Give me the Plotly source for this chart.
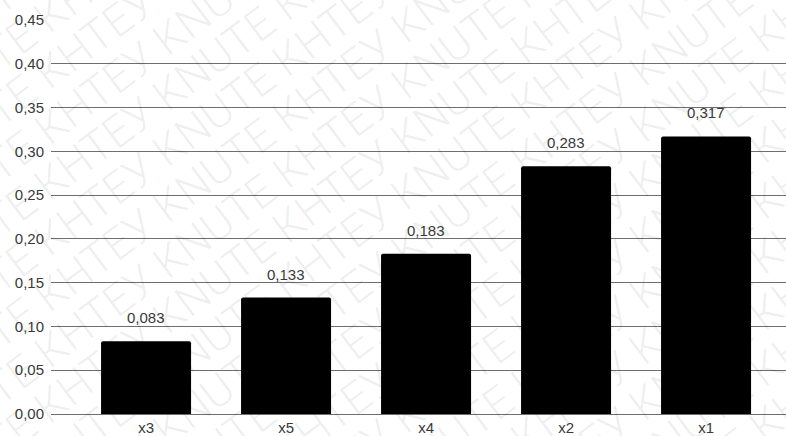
import plotly.graph_objects as go

categories = ["x3", "x5", "x4", "x2", "x1"]
values = [0.083, 0.133, 0.183, 0.283, 0.317]
y_ticks = [0.00, 0.05, 0.10, 0.15, 0.20, 0.25, 0.30, 0.35, 0.40, 0.45]
y_tick_labels = [f"{t:.2f}".replace(".", ",") for t in y_ticks]
watermark_text = "КНТЕУ KNUTE"

W, H = 786, 436
L, R, T, B = 51, 0, 20, 20
FONT = "Liberation Sans, Arial, sans-serif"
TXT = "#3a3a3a"

fig = go.Figure()
fig.add_trace(go.Bar(
    x=categories, y=values,
    marker=dict(color="#000000", line=dict(width=0), cornerradius=2),
    hoverinfo="skip",
))

# value labels above bars
for c, v in zip(categories, values):
    fig.add_annotation(
        x=c, y=v, xref="x", yref="y",
        text=f"{v:.3f}".replace(".", ","),
        showarrow=False, yanchor="bottom", yshift=13,
        font=dict(family=FONT, size=15, color=TXT),
    )

# diagonal watermark (semi-transparent dark so it vanishes on black bars)
angle = -37
pw, ph = W - L - R, H - T - B
long_text = (" ".join([watermark_text] * 5))
n_lines = 20
for i in range(n_lines):
    cy = -300 + i * 56  # screen y at image center x
    fig.add_annotation(
        x=(W / 2 - L) / pw, y=1 - (cy - T) / ph,
        xref="paper", yref="paper",
        text=long_text, showarrow=False, textangle=angle,
        xanchor="center", yanchor="middle",
        font=dict(family="Roboto", size=44, weight=300, color="rgba(0,0,0,0.07)"),
    )

fig.update_layout(
    width=W, height=H,
    margin=dict(l=L, r=R, t=T, b=B),
    paper_bgcolor="white", plot_bgcolor="white",
    bargap=50 / 140,
    showlegend=False,
    separators=", ",
    font=dict(family=FONT, size=15, color=TXT),
    xaxis=dict(
        range=[-0.679, 4.571],
        showgrid=False, zeroline=False, showline=False,
        ticks="", ticklabelstandoff=3,
        tickfont=dict(family=FONT, size=15, color=TXT),
        fixedrange=True,
    ),
    yaxis=dict(
        range=[0, 0.45],
        tickvals=y_ticks, ticktext=y_tick_labels,
        showgrid=True, gridcolor="#6e6e6e", gridwidth=1,
        zeroline=True, zerolinecolor="#6e6e6e", zerolinewidth=1,
        showline=False, ticks="", ticklabelstandoff=6,
        tickfont=dict(family=FONT, size=15, color=TXT),
        fixedrange=True,
    ),
)

fig.write_html("out.html")
